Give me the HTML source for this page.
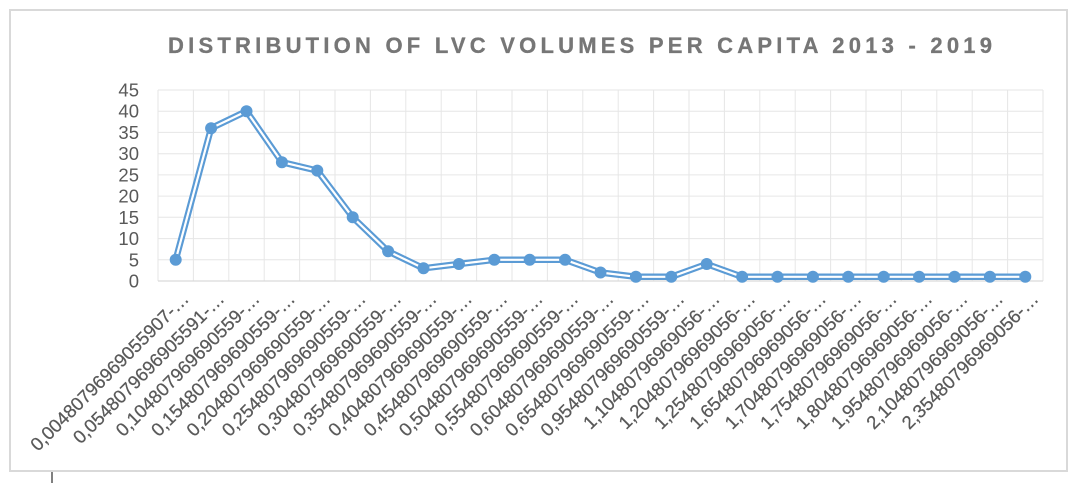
<!DOCTYPE html>
<html>
<head>
<meta charset="utf-8">
<style>
html,body{margin:0;padding:0;background:#fff;}
svg{display:block;}
text{font-family:"Liberation Sans",sans-serif;}
</style>
</head>
<body>
<svg width="1079" height="483" viewBox="0 0 1079 483" xmlns="http://www.w3.org/2000/svg">
<rect x="0" y="0" width="1079" height="483" fill="#fff"/>
<rect x="10" y="10" width="1057" height="461" fill="#fff" stroke="#d9d9d9" stroke-width="2"/>
<line x1="52" y1="472" x2="52" y2="483" stroke="#000" stroke-width="1"/>

<text x="168" y="53" font-size="22" font-weight="bold" fill="#767676" stroke="#767676" stroke-width="0.3" textLength="824" lengthAdjust="spacing">DISTRIBUTION OF LVC VOLUMES PER CAPITA 2013 - 2019</text>

<g stroke="#e6e6e6" stroke-width="1">
<line x1="158" y1="90" x2="1043" y2="90"/>
<line x1="158" y1="111.2" x2="1043" y2="111.2"/>
<line x1="158" y1="132.4" x2="1043" y2="132.4"/>
<line x1="158" y1="153.7" x2="1043" y2="153.7"/>
<line x1="158" y1="174.9" x2="1043" y2="174.9"/>
<line x1="158" y1="196.1" x2="1043" y2="196.1"/>
<line x1="158" y1="217.3" x2="1043" y2="217.3"/>
<line x1="158" y1="238.6" x2="1043" y2="238.6"/>
<line x1="158" y1="259.8" x2="1043" y2="259.8"/>
<line x1="158" y1="90" x2="158" y2="281"/>
<line x1="193.4" y1="90" x2="193.4" y2="281"/>
<line x1="228.8" y1="90" x2="228.8" y2="281"/>
<line x1="264.2" y1="90" x2="264.2" y2="281"/>
<line x1="299.6" y1="90" x2="299.6" y2="281"/>
<line x1="335" y1="90" x2="335" y2="281"/>
<line x1="370.4" y1="90" x2="370.4" y2="281"/>
<line x1="405.8" y1="90" x2="405.8" y2="281"/>
<line x1="441.2" y1="90" x2="441.2" y2="281"/>
<line x1="476.6" y1="90" x2="476.6" y2="281"/>
<line x1="512" y1="90" x2="512" y2="281"/>
<line x1="547.4" y1="90" x2="547.4" y2="281"/>
<line x1="582.8" y1="90" x2="582.8" y2="281"/>
<line x1="618.2" y1="90" x2="618.2" y2="281"/>
<line x1="653.6" y1="90" x2="653.6" y2="281"/>
<line x1="689" y1="90" x2="689" y2="281"/>
<line x1="724.4" y1="90" x2="724.4" y2="281"/>
<line x1="759.8" y1="90" x2="759.8" y2="281"/>
<line x1="795.2" y1="90" x2="795.2" y2="281"/>
<line x1="830.6" y1="90" x2="830.6" y2="281"/>
<line x1="866" y1="90" x2="866" y2="281"/>
<line x1="901.4" y1="90" x2="901.4" y2="281"/>
<line x1="936.8" y1="90" x2="936.8" y2="281"/>
<line x1="972.2" y1="90" x2="972.2" y2="281"/>
<line x1="1007.6" y1="90" x2="1007.6" y2="281"/>
<line x1="1043" y1="90" x2="1043" y2="281"/>
</g>
<line x1="158" y1="281" x2="1043" y2="281" stroke="#d9d9d9" stroke-width="1.2"/>

<g font-size="18.5" fill="#595959" text-anchor="end">
<text x="139" y="96.5">45</text>
<text x="139" y="117.7">40</text>
<text x="139" y="138.9">35</text>
<text x="139" y="160.2">30</text>
<text x="139" y="181.4">25</text>
<text x="139" y="202.6">20</text>
<text x="139" y="223.8">15</text>
<text x="139" y="245.1">10</text>
<text x="139" y="266.3">5</text>
<text x="139" y="287.5">0</text>
</g>

<polyline fill="none" stroke="#5b9bd5" stroke-width="6.5" stroke-linejoin="round" points="175.7,259.8 211.1,128.2 246.5,111.2 281.9,162.2 317.3,170.6 352.7,217.3 388.1,251.3 423.5,268.3 458.9,264.0 494.3,259.8 529.7,259.8 565.1,259.8 600.5,272.5 635.9,276.8 671.3,276.8 706.7,264.0 742.1,276.8 777.5,276.8 812.9,276.8 848.3,276.8 883.7,276.8 919.1,276.8 954.5,276.8 989.9,276.8 1025.3,276.8"/>
<polyline fill="none" stroke="#fff" stroke-width="2.2" stroke-linejoin="round" points="175.7,259.8 211.1,128.2 246.5,111.2 281.9,162.2 317.3,170.6 352.7,217.3 388.1,251.3 423.5,268.3 458.9,264.0 494.3,259.8 529.7,259.8 565.1,259.8 600.5,272.5 635.9,276.8 671.3,276.8 706.7,264.0 742.1,276.8 777.5,276.8 812.9,276.8 848.3,276.8 883.7,276.8 919.1,276.8 954.5,276.8 989.9,276.8 1025.3,276.8"/>
<g fill="#5b9bd5">
<circle cx="175.7" cy="259.8" r="6"/>
<circle cx="211.1" cy="128.2" r="6"/>
<circle cx="246.5" cy="111.2" r="6"/>
<circle cx="281.9" cy="162.2" r="6"/>
<circle cx="317.3" cy="170.6" r="6"/>
<circle cx="352.7" cy="217.3" r="6"/>
<circle cx="388.1" cy="251.3" r="6"/>
<circle cx="423.5" cy="268.3" r="6"/>
<circle cx="458.9" cy="264.0" r="6"/>
<circle cx="494.3" cy="259.8" r="6"/>
<circle cx="529.7" cy="259.8" r="6"/>
<circle cx="565.1" cy="259.8" r="6"/>
<circle cx="600.5" cy="272.5" r="6"/>
<circle cx="635.9" cy="276.8" r="6"/>
<circle cx="671.3" cy="276.8" r="6"/>
<circle cx="706.7" cy="264.0" r="6"/>
<circle cx="742.1" cy="276.8" r="6"/>
<circle cx="777.5" cy="276.8" r="6"/>
<circle cx="812.9" cy="276.8" r="6"/>
<circle cx="848.3" cy="276.8" r="6"/>
<circle cx="883.7" cy="276.8" r="6"/>
<circle cx="919.1" cy="276.8" r="6"/>
<circle cx="954.5" cy="276.8" r="6"/>
<circle cx="989.9" cy="276.8" r="6"/>
<circle cx="1025.3" cy="276.8" r="6"/>
</g>

<g font-size="18.5" fill="#595959" stroke="#595959" stroke-width="0.25" text-anchor="end">
<text transform="translate(190,300) rotate(-45)">0,00480796969055907-…</text>
<text transform="translate(225.4,300) rotate(-45)">0,0548079696905591-…</text>
<text transform="translate(260.8,300) rotate(-45)">0,104807969690559-…</text>
<text transform="translate(296.2,300) rotate(-45)">0,154807969690559-…</text>
<text transform="translate(331.6,300) rotate(-45)">0,204807969690559-…</text>
<text transform="translate(367,300) rotate(-45)">0,254807969690559-…</text>
<text transform="translate(402.4,300) rotate(-45)">0,304807969690559-…</text>
<text transform="translate(437.8,300) rotate(-45)">0,354807969690559-…</text>
<text transform="translate(473.2,300) rotate(-45)">0,404807969690559-…</text>
<text transform="translate(508.6,300) rotate(-45)">0,454807969690559-…</text>
<text transform="translate(544,300) rotate(-45)">0,504807969690559-…</text>
<text transform="translate(579.4,300) rotate(-45)">0,554807969690559-…</text>
<text transform="translate(614.8,300) rotate(-45)">0,604807969690559-…</text>
<text transform="translate(650.2,300) rotate(-45)">0,654807969690559-…</text>
<text transform="translate(685.6,300) rotate(-45)">0,954807969690559-…</text>
<text transform="translate(721,300) rotate(-45)">1,10480796969056-…</text>
<text transform="translate(756.4,300) rotate(-45)">1,20480796969056-…</text>
<text transform="translate(791.8,300) rotate(-45)">1,25480796969056-…</text>
<text transform="translate(827.2,300) rotate(-45)">1,65480796969056-…</text>
<text transform="translate(862.6,300) rotate(-45)">1,70480796969056-…</text>
<text transform="translate(898,300) rotate(-45)">1,75480796969056-…</text>
<text transform="translate(933.4,300) rotate(-45)">1,80480796969056-…</text>
<text transform="translate(968.8,300) rotate(-45)">1,95480796969056-…</text>
<text transform="translate(1004.2,300) rotate(-45)">2,10480796969056-…</text>
<text transform="translate(1039.6,300) rotate(-45)">2,35480796969056-…</text>
</g>
</svg>
</body>
</html>
